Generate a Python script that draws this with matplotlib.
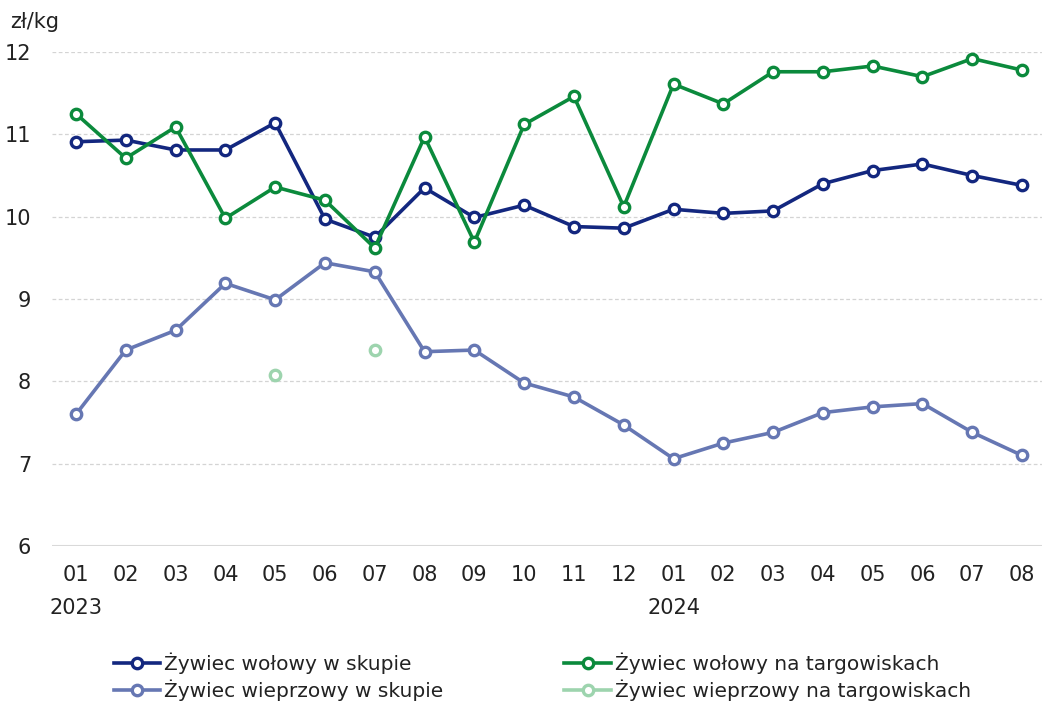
import matplotlib
matplotlib.use('Agg')
import matplotlib.pyplot as plt
from matplotlib import font_manager
import numpy as np

# look for a condensed face, else plain DejaVu
narrow = [f.name for f in font_manager.fontManager.ttflist
          if 'condensed' in str(f.stretch).lower() or 'Narrow' in f.name
          or 'Condensed' in f.name]
plt.rcParams['font.family'] = (narrow[:1] or []) + ['DejaVu Sans']
if not narrow:
    plt.rcParams['font.stretch'] = 'condensed'

months = ['01', '02', '03', '04', '05', '06', '07', '08', '09', '10',
          '11', '12', '01', '02', '03', '04', '05', '06', '07', '08']
years = {0: '2023', 12: '2024'}

wol_skup = [10.91, 10.93, 10.81, 10.81, 11.14, 9.97, 9.75, 10.35, 9.99, 10.14,
            9.88, 9.86, 10.09, 10.04, 10.07, 10.40, 10.56, 10.64, 10.50, 10.38]
wol_targ = [11.25, 10.71, 11.09, 9.98, 10.36, 10.20, 9.62, 10.97, 9.69, 11.12,
            11.46, 10.12, 11.61, 11.37, 11.76, 11.76, 11.83, 11.70, 11.92, 11.78]
wiep_skup = [7.60, 8.38, 8.62, 9.19, 8.99, 9.44, 9.33, 8.36, 8.38, 7.98,
             7.81, 7.47, 7.06, 7.25, 7.38, 7.62, 7.69, 7.73, 7.38, 7.10]
nan = np.nan
wiep_targ = [nan, nan, nan, nan, 8.08, nan, 8.38, nan, nan, nan,
             nan, nan, nan, nan, nan, nan, nan, nan, nan, nan]

labels = ['Żywiec wołowy w skupie', 'Żywiec wołowy na targowiskach',
          'Żywiec wieprzowy w skupie', 'Żywiec wieprzowy na targowiskach']
colors = ['#13277f', '#0b8a3c', '#6677b3', '#9dd4ae']

fig = plt.figure(figsize=(10.42, 7.03), dpi=100)
ax = fig.add_axes([52 / 1042, 1 - 546 / 703, 990 / 1042, 494 / 703])

x = np.arange(len(months))
series = [wol_skup, wol_targ, wiep_skup, wiep_targ]
handles = []
for vals, col, lab in zip(series, colors, labels):
    h, = ax.plot(x, vals, color=col, lw=2.6, marker='o', ms=7.5,
                 mfc='white', mec=col, mew=2.4, label=lab, clip_on=False,
                 zorder=3)
    handles.append(h)

ax.set_xlim(-0.482, 19.40)
ax.set_ylim(6, 12)
ax.set_yticks(range(6, 13))
for v in range(7, 13):
    ax.axhline(v, color='#d4d4d4', lw=0.9, ls=(0, (3, 2)), zorder=1)
ax.axhline(6, color='#d9d9d9', lw=2.2, zorder=1)
for s in ax.spines.values():
    s.set_visible(False)
ax.tick_params(axis='both', length=0, labelsize=15, colors='#222222')
ax.tick_params(axis='y', pad=15)
ax.set_xticks(x)
ax.set_xticklabels(months)
ax.tick_params(axis='x', pad=14)
for i, yr in years.items():
    ax.text(i, -0.105, yr, transform=ax.get_xaxis_transform(), ha='center',
            va='top', fontsize=15, color='#222222')

fig.text(10 / 1042, 1 - 22 / 703, 'zł/kg', fontsize=15, color='#222222',
         va='center', ha='left')

# legend fills by column, so reorder to get the rows right
order = [handles[0], handles[2], handles[1], handles[3]]
leg = fig.legend(order, [h.get_label() for h in order], ncol=2,
                 loc='upper left', bbox_to_anchor=(106 / 1042, 1 - 644 / 703),
                 frameon=False, fontsize=14.5, handlelength=2.3,
                 handletextpad=0.2, columnspacing=6.0, labelspacing=0.3,
                 borderaxespad=0)
for t in leg.get_texts():
    t.set_color('#222222')

fig.savefig('out.png', dpi=100)
